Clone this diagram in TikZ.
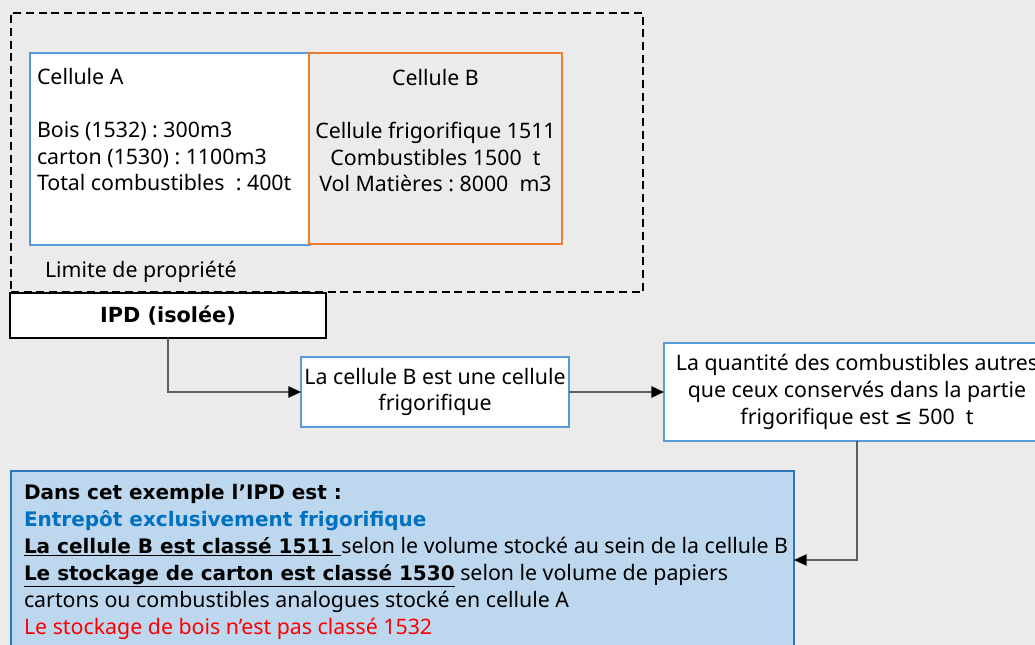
\documentclass[tikz,border=0pt]{standalone}
\usepackage{fontspec}
\setmainfont{Noto Sans}
\newfontfamily\dv{DejaVu Sans}
\usetikzlibrary{arrows.meta}
\frenchspacing
\definecolor{bg}{RGB}{235,235,235}
\definecolor{bluebd}{RGB}{91,155,213}
\definecolor{orangebd}{RGB}{237,125,49}
\definecolor{lightblue}{RGB}{189,215,238}
\definecolor{darkbluebd}{RGB}{46,117,182}
\definecolor{txtblue}{RGB}{0,112,192}
\definecolor{conngray}{RGB}{95,95,95}
\begin{document}
\begin{tikzpicture}[x=0.75pt,y=-0.75pt,
  boxbase/.style={inner sep=0pt, outer sep=0pt},
  limitbox/.style={boxbase, draw=black, line width=1.1pt, dash pattern=on 6pt off 3.5pt},
  cellA/.style={boxbase, draw=bluebd, fill=white, line width=1.5pt},
  cellB/.style={boxbase, draw=orangebd, fill=bg, line width=1.5pt},
  ipdbox/.style={boxbase, draw=black, fill=white, line width=1.6pt, font=\dv\bfseries\fontsize{15.6}{19}\selectfont},
  stepbox/.style={boxbase, draw=bluebd, fill=white, line width=1.4pt, align=center},
  resbox/.style={boxbase, draw=darkbluebd, fill=lightblue, line width=1pt},
  txt/.style={inner sep=0pt, outer sep=0pt, font=\fontsize{16}{19.9}\selectfont},
  conn/.style={draw=conngray, line width=1.1pt, -{Triangle[length=9.5pt,width=8.5pt,color=black]}}
]
\fill[bg] (0,0) rectangle (1035,645);
\useasboundingbox (0,0) rectangle (1035,645);
\clip (0,0) rectangle (1035,645);

% boxes
\node[limitbox, minimum width=632*0.75pt, minimum height=279*0.75pt] (limit) at (327,152.5) {};
\node[cellA, minimum width=280*0.75pt, minimum height=192*0.75pt] (A) at (170,149) {};
\node[cellB, minimum width=253*0.75pt, minimum height=191*0.75pt] (B) at (435.5,148.5) {};

\node[txt, anchor=base west, align=left] (tA) at (37,191) {Cellule A\\[19.9pt]Bois (1532) : 300m3\\carton (1530) : 1100m3\\Total combustibles\ \ : 400t};
\node[txt, anchor=base, align=center] (tB) at (435.5,192) {Cellule B\\[19.9pt]Cellule frigorifique 1511\\Combustibles 1500\ \ t\\Vol Matières : 8000\ \ m3};
\node[txt, anchor=base west] (tlim) at (45,278) {Limite de propriété};

\node[ipdbox, minimum width=316*0.75pt, minimum height=45*0.75pt] (ipd) at (168,315.5) {IPD (isolée)};

\node[stepbox, minimum width=268*0.75pt, minimum height=70*0.75pt, font=\fontsize{16}{19.5}\selectfont] (b2) at (435,392) {La cellule B est une cellule\\frigorifique};

\node[stepbox, minimum width=386*0.75pt, minimum height=98*0.75pt, font=\fontsize{16}{20.25}\selectfont] (b3) at (857,392) {La quantité des combustibles autres\\que ceux conservés dans la partie\\frigorifique est {\dv≤} 500\ \ t};

\node[resbox, minimum width=783*0.75pt, minimum height=178*0.75pt] (b4) at (402.5,560) {};

\node[txt, anchor=base west, align=left, font=\fontsize{16}{20.25}\selectfont] (tb4) at (24,634) {%
{\dv\bfseries\fontsize{15}{20.25}\selectfont Dans cet exemple l’IPD est :}\\
{\dv\bfseries\fontsize{15}{20.25}\selectfont\color{txtblue}Entrepôt exclusivement frigorifique}\\
{\dv\bfseries\fontsize{15}{20.25}\selectfont\underline{La cellule B est classé 1511 }}selon le volume stocké au sein de la cellule B\\
{\dv\bfseries\fontsize{15}{20.25}\selectfont\underline{Le stockage de carton est classé 1530}} selon le volume de papiers\\
cartons ou combustibles analogues stocké en cellule A\\
{\color{red}Le stockage de bois n’est pas classé 1532}};

% connectors
\draw[conn] (ipd.south) |- (b2.west);
\draw[conn] (b2.east) -- (b3.west);
\draw[conn] (b3.south) |- (b4.east);
\end{tikzpicture}
\end{document}
